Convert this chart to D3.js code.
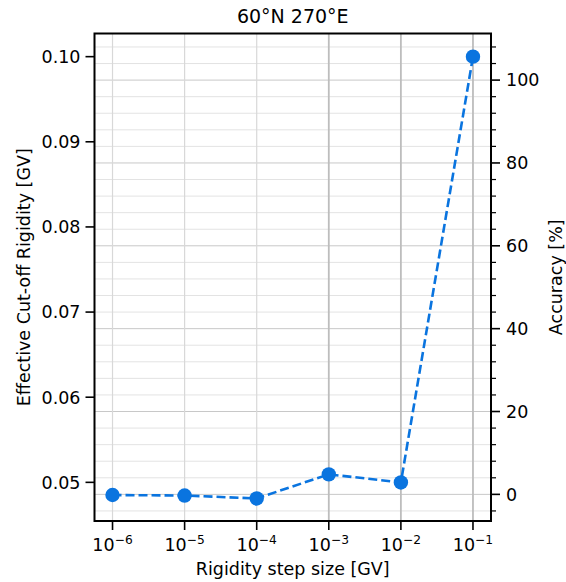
<!DOCTYPE html>
<html><head><meta charset="utf-8">
<script src="https://cdn.jsdelivr.net/npm/d3@7"></script>
<style>body{margin:0;background:#fff}text{font-family:"DejaVu Sans",sans-serif;fill:#000}</style>
</head><body>
<script>
const stepSizes = [1e-6, 1e-5, 1e-4, 1e-3, 1e-2, 1e-1];
const cutoff = [0.04851, 0.04845, 0.04811, 0.05094, 0.04999, 0.1000];
const xTickExps = [-6, -5, -4, -3, -2, -1];
const leftTicks = [0.05, 0.06, 0.07, 0.08, 0.09, 0.10];
const rightTicks = [0, 20, 40, 60, 80, 100];
const rightMinor = d3.range(-4, 112, 4).filter(v => v % 20 !== 0);
const title = "60°N 270°E";
const xLabel = "Rigidity step size [GV]";
const yLabel = "Effective Cut-off Rigidity [GV]";
const y2Label = "Accuracy [%]";

const W = 566, H = 582;
const L = 94.5, R = 491, T = 33.5, B = 521;
const FS = 17.5;
const color = "#0a74df";

const svg = d3.select("body").append("svg").attr("width", W).attr("height", H);

const x = d3.scaleLog().domain([Math.pow(10, -6.25), Math.pow(10, -0.75)]).range([L, R]);
const yL = d3.scaleLinear().domain([0.04546, 0.10272]).range([B, T]);
const yR = d3.scaleLinear().domain([-6.43, 111.25]).range([B, T]);

// horizontal grid (right axis majors + minors)
const g = svg.append("g");
g.selectAll("line.hmin").data(rightMinor).join("line")
  .attr("x1", L).attr("x2", R).attr("y1", d => yR(d)).attr("y2", d => yR(d))
  .attr("stroke", "#e3e3e3").attr("stroke-width", 1);
g.selectAll("line.hmaj").data(rightTicks).join("line")
  .attr("x1", L).attr("x2", R).attr("y1", d => yR(d)).attr("y2", d => yR(d))
  .attr("stroke", "#c8c8c8").attr("stroke-width", 1);
// vertical grid
g.selectAll("line.v").data(stepSizes).join("line")
  .attr("x1", d => x(d)).attr("x2", d => x(d)).attr("y1", T).attr("y2", B)
  .attr("stroke", (d, i) => i < 3 ? "#d8d8d8" : "#bdbdbd")
  .attr("stroke-width", (d, i) => i < 3 ? 1.2 : 1.8);

// line & markers
const line = d3.line().x((d, i) => x(stepSizes[i])).y(d => yL(d));
svg.append("path").datum(cutoff).attr("d", line).attr("fill", "none")
  .attr("stroke", color).attr("stroke-width", 2.6).attr("stroke-dasharray", "9,4");
svg.selectAll("circle.pt").data(cutoff).join("circle")
  .attr("cx", (d, i) => x(stepSizes[i])).attr("cy", d => yL(d)).attr("r", 7.2)
  .attr("fill", color);

// frame
svg.append("rect").attr("x", L).attr("y", T).attr("width", R - L).attr("height", B - T)
  .attr("fill", "none").attr("stroke", "#000").attr("stroke-width", 2);

// left ticks
const lt = svg.append("g");
lt.selectAll("line").data(leftTicks).join("line")
  .attr("x1", L - 9).attr("x2", L).attr("y1", d => yL(d)).attr("y2", d => yL(d))
  .attr("stroke", "#000").attr("stroke-width", 1.6);
lt.selectAll("text").data(leftTicks).join("text")
  .attr("x", L - 14).attr("y", d => yL(d)).attr("dy", "0.36em")
  .attr("text-anchor", "end").attr("font-size", FS).text(d => d3.format(".2f")(d));

// right ticks
const rt = svg.append("g");
rt.selectAll("line.maj").data(rightTicks).join("line")
  .attr("x1", R).attr("x2", R + 9).attr("y1", d => yR(d)).attr("y2", d => yR(d))
  .attr("stroke", "#000").attr("stroke-width", 1.6);
rt.selectAll("line.min").data(rightMinor).join("line")
  .attr("x1", R).attr("x2", R + 5).attr("y1", d => yR(d)).attr("y2", d => yR(d))
  .attr("stroke", "#000").attr("stroke-width", 1.2);
rt.selectAll("text").data(rightTicks).join("text")
  .attr("x", R + 15).attr("y", d => yR(d)).attr("dy", "0.36em")
  .attr("text-anchor", "start").attr("font-size", FS).text(d => d);

// x ticks
const xt = svg.append("g");
xt.selectAll("line").data(xTickExps).join("line")
  .attr("x1", d => x(Math.pow(10, d))).attr("x2", d => x(Math.pow(10, d)))
  .attr("y1", B).attr("y2", B + 9).attr("stroke", "#000").attr("stroke-width", 1.6);
const xl = xt.selectAll("text").data(xTickExps).join("text")
  .attr("x", d => x(Math.pow(10, d))).attr("y", 551)
  .attr("text-anchor", "middle").attr("font-size", FS);
xl.append("tspan").text("10");
xl.append("tspan").attr("font-size", FS * 0.7).attr("dy", -7).text(d => "\u2212" + Math.abs(d));

// title & labels
svg.append("text").attr("x", (L + R) / 2).attr("y", 23).attr("text-anchor", "middle")
  .attr("font-size", 19).text(title);
svg.append("text").attr("x", (L + R) / 2).attr("y", 575).attr("text-anchor", "middle")
  .attr("font-size", FS).text(xLabel);
svg.append("text").attr("transform", `translate(30,${(T + B) / 2}) rotate(-90)`)
  .attr("text-anchor", "middle").attr("font-size", FS).text(yLabel);
svg.append("text").attr("transform", `translate(562,${(T + B) / 2}) rotate(-90)`)
  .attr("text-anchor", "middle").attr("font-size", FS).text(y2Label);
</script>
</body></html>
